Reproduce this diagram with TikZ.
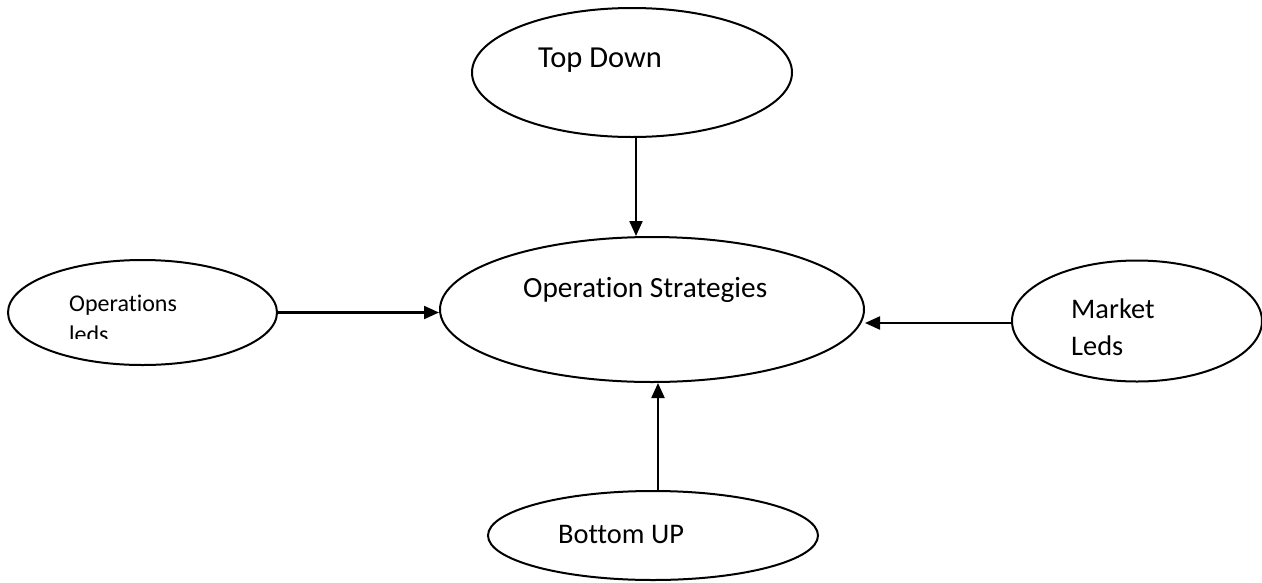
\documentclass[tikz,border=0pt]{standalone}
\usepackage{fontspec}
\setmainfont{Carlito}[Ligatures=NoCommon]
\usetikzlibrary{shapes.geometric,arrows.meta}
\begin{document}
\begin{tikzpicture}[x=1pt,y=-1pt,
  oval/.style={draw=black,line width=2pt,ellipse,inner sep=0pt},
  big/.style={inner sep=0pt,anchor=base west,font=\fontsize{30.5}{36}\selectfont},
  mid/.style={inner sep=0pt,anchor=base west,font=\fontsize{29.3}{36}\selectfont},
  med/.style={inner sep=0pt,anchor=base west,font=\fontsize{28.4}{34}\selectfont},
  small/.style={inner sep=0pt,anchor=base west,font=\fontsize{24}{29}\selectfont},
  arr/.style={line width=2.2pt,-{Triangle[length=15pt,width=13pt]}}]
\useasboundingbox (0,0) rectangle (1262,582);
% ellipses
\node[oval,minimum width=320pt,minimum height=129pt] (top) at (632,72.5) {};
\node[oval,minimum width=424pt,minimum height=145pt] (center) at (652,309.5) {};
\node[oval,minimum width=269pt,minimum height=105pt] (left) at (142.5,312.5) {};
\node[oval,minimum width=250pt,minimum height=121pt] (right) at (1137,321) {};
\node[oval,minimum width=330pt,minimum height=89pt] (bottom) at (653,535.5) {};
% texts
\node[big] (ttop) at (538,67) {Top Down};
\node[mid] (tcenter) at (523,297) {Operation Strategies};
\node[med] (tbottom) at (558,543) {Bottom UP};
\node[small] (tleft1) at (69,311) {Operations};
\begin{scope}
  \clip (0,318) rectangle (300,338);
  \node[small] (tleft2) at (69,342) {leds};
\end{scope}
\node[med] (tright1) at (1071,318) {Market};
\begin{scope}
  \clip (1020,325) rectangle (1250,355);
  \node[med] (tright2) at (1071,355) {Leds};
\end{scope}
% connectors
\draw[arr] ([xshift=4pt]top.south) -- ([xshift=4pt]top.south |- center.north);
\draw[arr] (left.east) -- (left.east -| center.west);
\draw[arr] ([yshift=-2pt]right.west) -- ([yshift=-2pt]right.west -| center.east);
\draw[arr] ([xshift=5pt]bottom.north) -- ([xshift=5pt]bottom.north |- center.south);
\end{tikzpicture}
\end{document}
